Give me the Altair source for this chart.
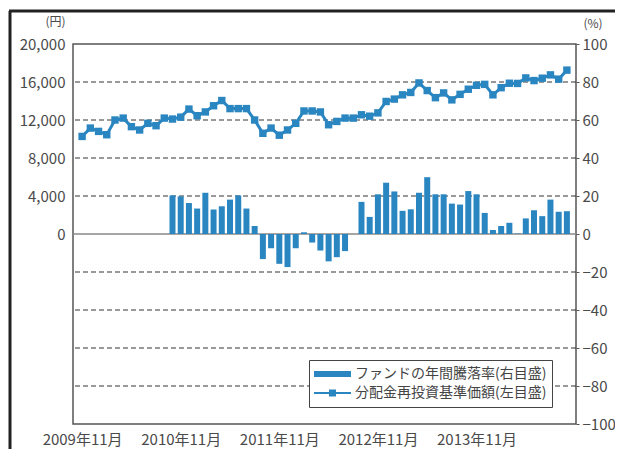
import altair as alt
import pandas as pd

# ---------------- data ----------------
X_LABELS = ["2009年11月", "2010年11月", "2011年11月", "2012年11月", "2013年11月"]
X_LABEL_POS = [0, 12, 24, 36, 48]

# 分配金再投資基準価額 (円), monthly, left axis
NAV = [10270, 11150, 10800, 10450, 12000, 12200, 11300, 10950, 11650, 11400,
       12200, 12100, 12300, 13150, 12450, 12850, 13500, 14050, 13200, 13200,
       13200, 12000, 10600, 11150, 10400, 10950, 11650, 12950, 12950, 12850,
       11500, 11850, 12200, 12200, 12550, 12400, 12750, 13950, 14200, 14650,
       14900, 15900, 15100, 14350, 14850, 14120, 14700, 15240, 15650, 15750,
       14650, 15400, 15870, 15850, 16430, 16150, 16400, 16750, 16300, 17250]

# ファンドの年間騰落率 (%), monthly from the 12th month, right axis
RETURN_START = 11
RETURNS = [20.3, 19.8, 16.3, 13.4, 21.7, 12.9, 14.6, 18.1, 20.3, 13.4,
           4.2, -13.2, -7.5, -15.7, -17.4, -7.5, 0.9, -4.5, -8.7, -14.4,
           -12.2, -9.0, 0.0, 16.9, 9.0, 20.9, 27.0, 22.4, 12.2, 13.0,
           21.7, 29.9, 20.9, 20.9, 16.0, 15.5, 22.6, 20.9, 11.1, 2.1,
           4.2, 5.9, 0.2, 8.2, 12.5, 9.4, 18.1, 11.7, 12.0]

LEFT_TICKS = [0, 4000, 8000, 12000, 16000, 20000]
RIGHT_TICKS = [-100, -80, -60, -40, -20, 0, 20, 40, 60, 80, 100]
GRID_TICKS = [-80, -60, -40, -20, 20, 40, 60, 80]

S_BAR = "ファンドの年間騰落率(右目盛)"
S_LINE = "分配金再投資基準価額(左目盛)"

BLUE = "#2a86c1"
TEXT = "#4a4a4a"
FONT = "Noto Sans CJK JP"

nav_df = pd.DataFrame({"i": list(range(len(NAV))), "nav": NAV})
ret_df = pd.DataFrame({"i": list(range(RETURN_START, RETURN_START + len(RETURNS))), "ret": RETURNS})
grid_df = pd.DataFrame({"g": GRID_TICKS})
zero_df = pd.DataFrame({"z": [0]})
legend_df = pd.DataFrame({"series": [S_BAR, S_LINE]})

# ---------------- scales / axes ----------------
x_scale = alt.Scale(domain=[-0.5, len(NAV) - 0.5], nice=False, zero=False)
pct_scale = alt.Scale(domain=[-100, 100], nice=False)
nav_scale = alt.Scale(domain=[-20000, 20000], nice=False)

label_expr = "[" + ",".join("'%s'" % s for s in X_LABELS) + "][floor(datum.value / 12)]"
x_axis = alt.Axis(values=X_LABEL_POS, labelExpr=label_expr, title=None, grid=False,
                  domain=False, ticks=False, labelPadding=8, labelFontSize=15)
x_enc = alt.X("i:Q", scale=x_scale, axis=x_axis)

left_axis = alt.Axis(orient="left", values=LEFT_TICKS, format=",.0f", grid=False, domain=False,
                     ticks=False, labelPadding=8, title="(円)", titleAngle=0,
                     titleAlign="right", titleBaseline="bottom", titleX=-8, titleY=-16)
right_axis = alt.Axis(orient="right", values=RIGHT_TICKS, grid=False, domain=False,
                      ticks=True, tickSize=3, tickColor="#555", labelPadding=3,
                      title="(%)", titleAngle=0, titleAlign="left", titleBaseline="bottom",
                      titleX=7, titleY=-14)

# ---------------- layers ----------------
frame_left = alt.Chart(zero_df).mark_rule(color="#222", strokeWidth=3).encode(
    x=alt.value(-63), y=alt.value(-33), y2=alt.value(440))
frame_top = alt.Chart(zero_df).mark_rule(color="#222", strokeWidth=3).encode(
    x=alt.value(-64), x2=alt.value(560), y=alt.value(-33))

grid = alt.Chart(grid_df).mark_rule(color="#333", strokeDash=[5, 3], strokeWidth=1).encode(
    y=alt.Y("g:Q", scale=pct_scale, axis=None))

zero = alt.Chart(zero_df).mark_rule(color="#888", strokeWidth=1.5).encode(
    y=alt.Y("z:Q", scale=pct_scale, axis=None))

bars = alt.Chart(ret_df).mark_bar(size=6, color=BLUE).encode(
    x=x_enc, y=alt.Y("ret:Q", scale=pct_scale, axis=right_axis))

line = alt.Chart(nav_df).mark_line(
    color=BLUE, strokeWidth=3,
    point=alt.OverlayMarkDef(shape="square", size=55, filled=True, color=BLUE, opacity=1)
).encode(x=x_enc, y=alt.Y("nav:Q", scale=nav_scale, axis=left_axis))

BAR_PATH = "M-1,-0.16H1V0.16H-1Z"
LINE_PATH = "M-1,-0.06H1V0.06H-1Z M-0.19,-0.19H0.19V0.19H-0.19Z"

legend_layer = alt.Chart(legend_df).transform_filter("false").mark_point(
    filled=True, opacity=1, size=1369, color=BLUE
).encode(
    shape=alt.Shape("series:N",
                    scale=alt.Scale(domain=[S_BAR, S_LINE], range=[BAR_PATH, LINE_PATH]),
                    legend=alt.Legend(orient="none", legendX=236, legendY=316, title=None,
                                      labelFontSize=14, labelFont=FONT, labelColor="#444",
                                      labelLimit=320, symbolSize=1369, clipHeight=18,
                                      rowPadding=1, padding=5, fillColor="white",
                                      strokeColor="#444", symbolOpacity=1,
                                      symbolStrokeWidth=0, symbolFillColor=BLUE,
                                      labelOffset=4))
)

chart = alt.layer(frame_left, frame_top, grid, zero, bars, line, legend_layer).resolve_scale(
    y="independent"
).properties(
    width=503, height=380,
    autosize=alt.AutoSizeParams(type="none"),
    padding={"left": 65, "top": 36, "right": 39, "bottom": 25},
).configure_view(
    stroke="#555", strokeWidth=1.5
).configure_axis(
    labelFont=FONT, labelFontSize=15, labelColor=TEXT,
    titleFont=FONT, titleFontSize=12, titleColor=TEXT, titleFontWeight="normal"
)

chart.save("out.html", embed_options={"renderer": "svg", "actions": False})
